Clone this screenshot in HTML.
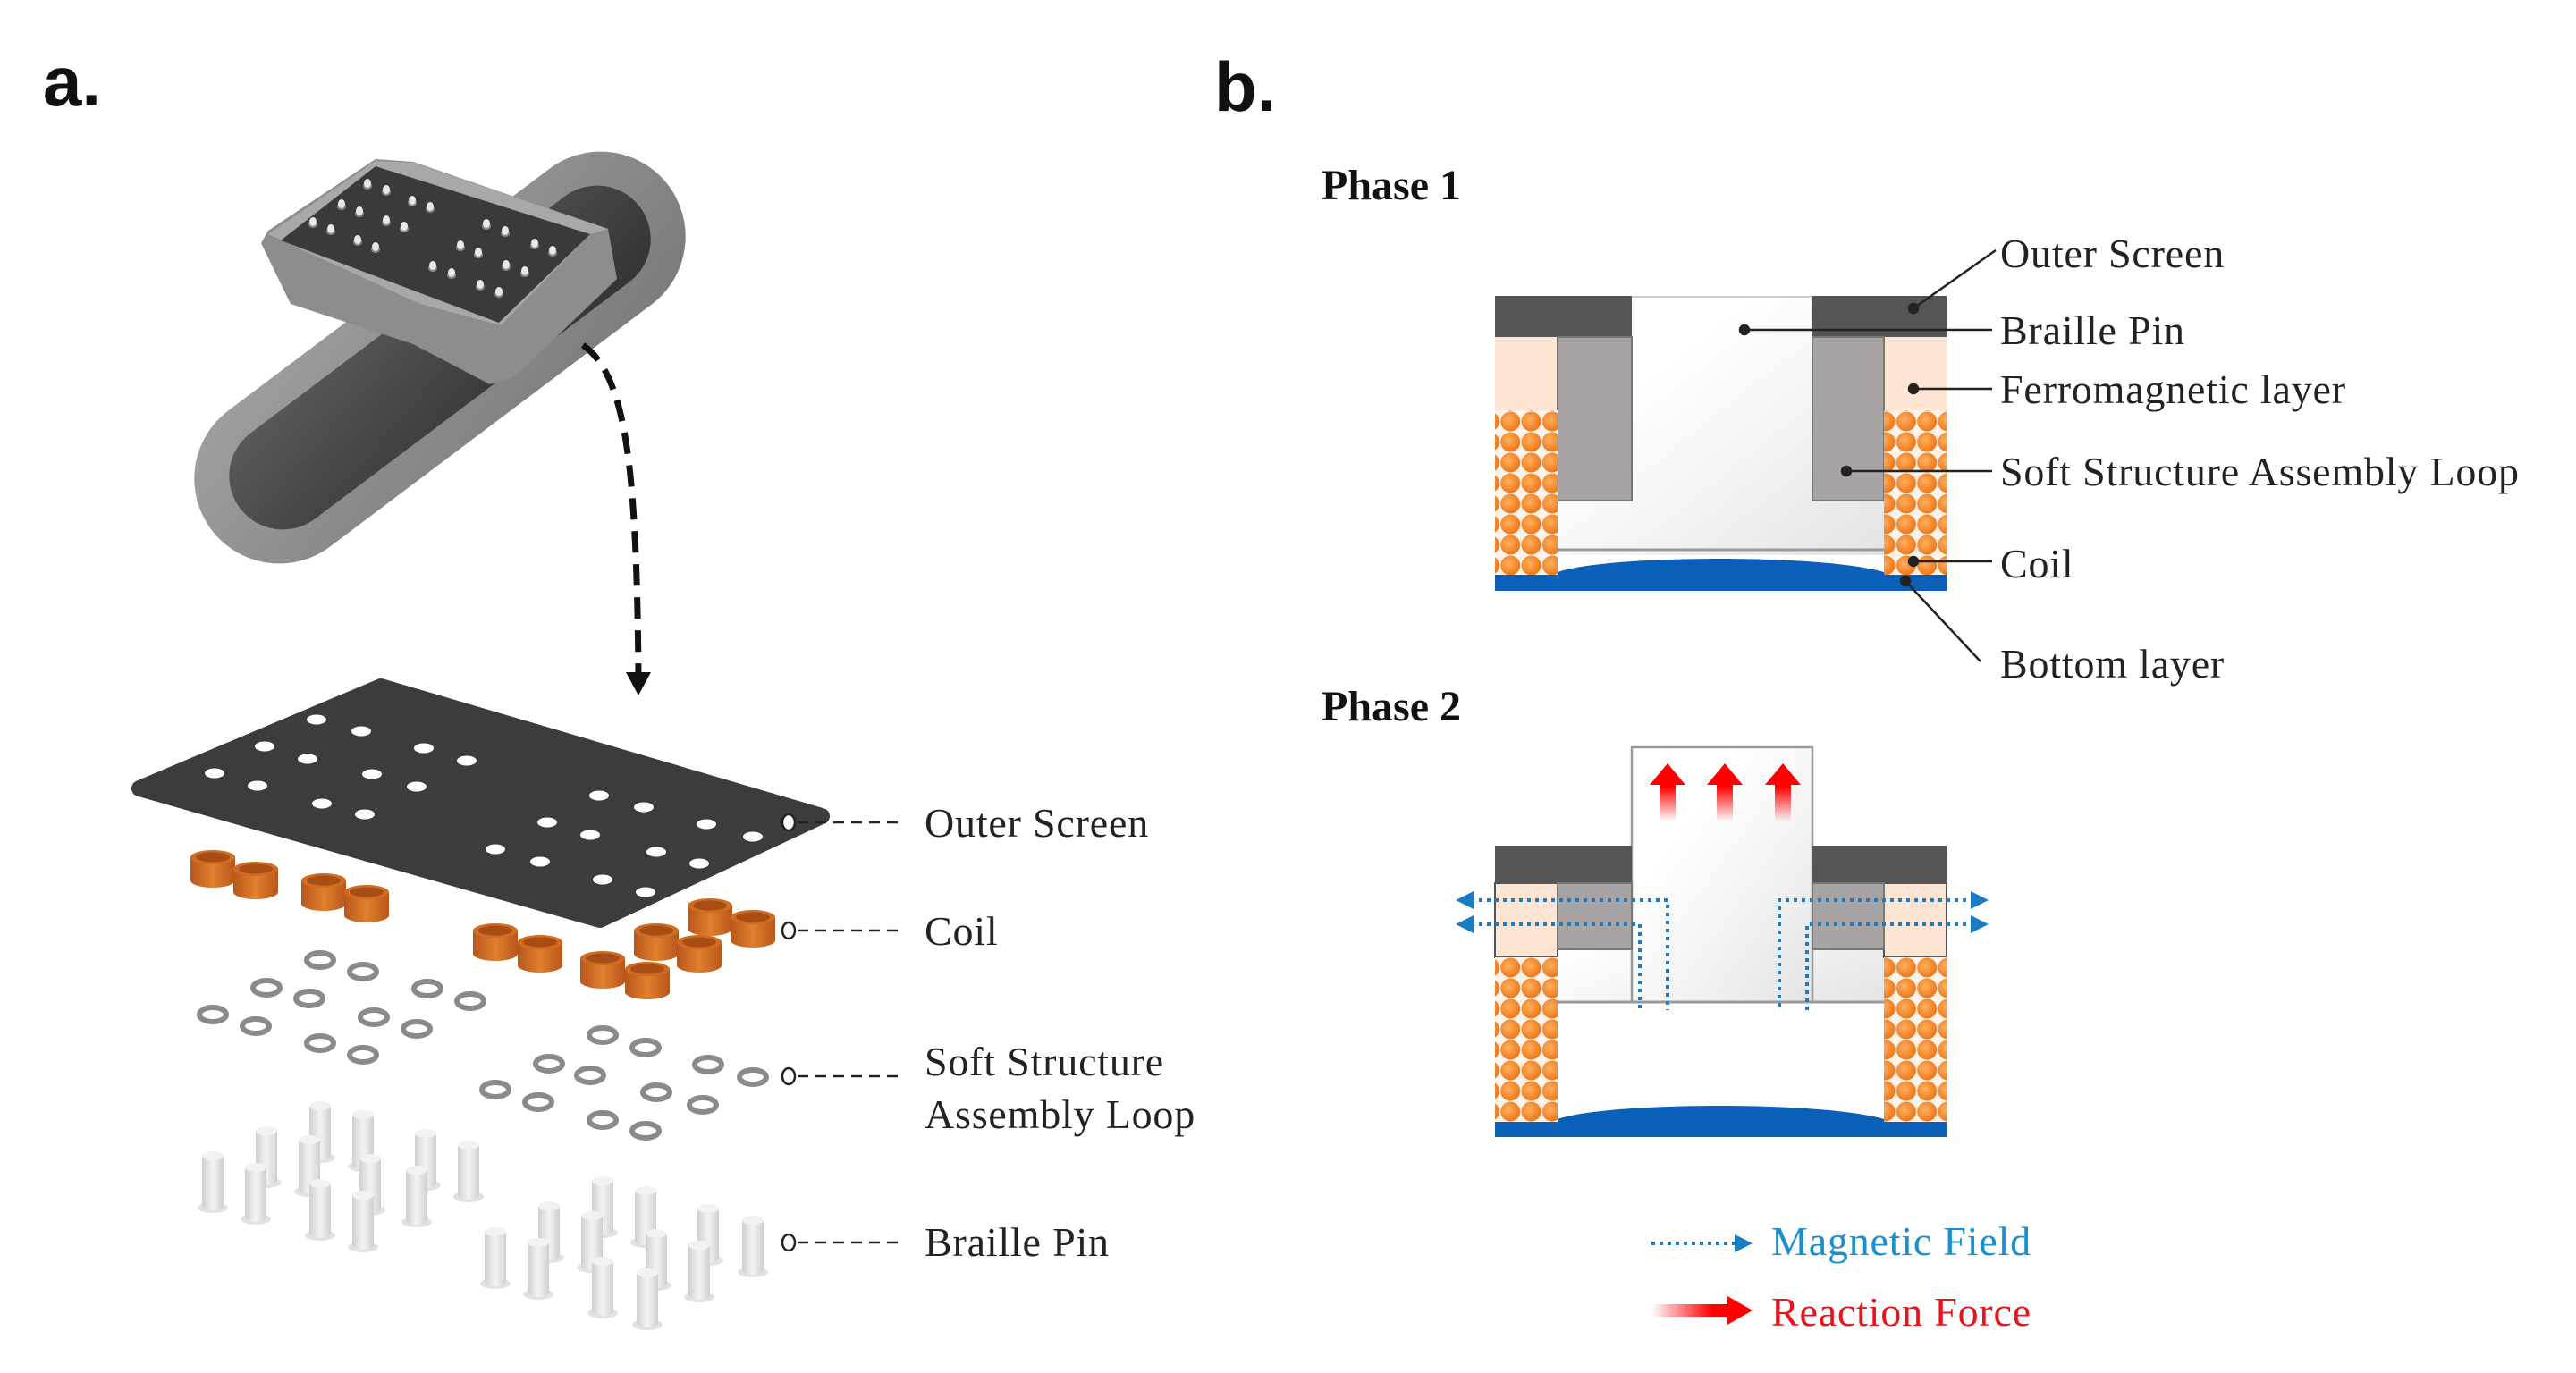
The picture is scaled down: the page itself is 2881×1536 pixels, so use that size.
<!DOCTYPE html>
<html><head><meta charset="utf-8"><style>
html,body{margin:0;padding:0;background:#fff}
svg{display:block}
text{font-family:"Liberation Serif",serif}
</style></head><body>
<svg width="2881" height="1536" viewBox="0 0 2881 1536" xmlns="http://www.w3.org/2000/svg">
<defs>
<linearGradient id="band" x1="0" y1="0" x2="1" y2="1"><stop offset="0" stop-color="#a0a0a0"/><stop offset="1" stop-color="#7a7a7a"/></linearGradient>
<linearGradient id="hole" x1="0" y1="0" x2="1" y2="1"><stop offset="0" stop-color="#5a5a5a"/><stop offset="1" stop-color="#333"/></linearGradient>
<linearGradient id="redup" x1="0" y1="1" x2="0" y2="0"><stop offset="0" stop-color="#ff0000" stop-opacity="0"/><stop offset="0.6" stop-color="#ff0000"/><stop offset="1" stop-color="#ff0000"/></linearGradient>
<linearGradient id="redright" x1="0" y1="0" x2="1" y2="0"><stop offset="0" stop-color="#ff0000" stop-opacity="0"/><stop offset="0.6" stop-color="#ff0000"/><stop offset="1" stop-color="#ff0000"/></linearGradient>
<linearGradient id="pinbg" x1="0" y1="0" x2="1" y2="1"><stop offset="0.3" stop-color="#fff"/><stop offset="1" stop-color="#e4e4e4"/></linearGradient>
<radialGradient id="coilc" cx="0.4" cy="0.4" r="0.6"><stop offset="0" stop-color="#ffb060"/><stop offset="1" stop-color="#f07818"/></radialGradient>
<pattern id="coilpat" x="0" y="0" width="23.3" height="23" patternUnits="userSpaceOnUse"><rect width="23.3" height="23" fill="#fbf3ec"/><circle cx="11.6" cy="11.5" r="11" fill="url(#coilc)"/></pattern>
<pattern id="coilpat2" x="0" y="1071" width="23.3" height="23" patternUnits="userSpaceOnUse"><rect width="23.3" height="23" fill="#fbf3ec"/><circle cx="11.6" cy="11.5" r="11" fill="url(#coilc)"/></pattern>
<linearGradient id="coilside" x1="0" y1="0" x2="1" y2="0"><stop offset="0" stop-color="#b8561a"/><stop offset="0.5" stop-color="#e0802e"/><stop offset="1" stop-color="#b8561a"/></linearGradient>
<linearGradient id="pinside" x1="0" y1="0" x2="1" y2="0"><stop offset="0" stop-color="#cfcfcf"/><stop offset="0.5" stop-color="#f4f4f4"/><stop offset="1" stop-color="#cfcfcf"/></linearGradient>
<g id="coil"><path d="M-25,0 v26 a25,8 0 0 0 50,0 v-26 z" fill="url(#coilside)"/><ellipse cx="0" cy="0" rx="25" ry="8" fill="#d06c22"/><ellipse cx="0" cy="0" rx="19" ry="5.5" fill="#a84e14"/></g>
<g id="ring"><ellipse cx="0" cy="0" rx="15" ry="8" fill="none" stroke="#8a8a8a" stroke-width="6"/></g>
<g id="pin"><ellipse cx="0" cy="58" rx="17" ry="6" fill="#e2e2e2"/><path d="M-12,0 v56 a12,5 0 0 0 24,0 v-56 z" fill="url(#pinside)"/><ellipse cx="0" cy="0" rx="12" ry="5" fill="#f2f2f2"/></g>
<g id="bump"><ellipse cx="0" cy="3" rx="5" ry="4" fill="#888"/><ellipse cx="0" cy="0" rx="4" ry="5" fill="#e8e8e8"/></g>
</defs>

<text x="48" y="118" font-weight="bold" font-size="78" fill="#111" style="font-family:'Liberation Sans',sans-serif">a.</text>
<text x="1358" y="124" font-weight="bold" font-size="78" fill="#111" style="font-family:'Liberation Sans',sans-serif">b.</text>

<!-- bracelet -->
<g transform="translate(492,400) rotate(-37)">
<rect x="-320" y="-95" width="640" height="190" rx="95" fill="url(#band)"/>
<rect x="-280" y="-60" width="560" height="120" rx="60" fill="url(#hole)"/>
</g>
<polygon points="292,272 300,258 420,178 462,181 680,256 690,312 575,422 548,430 462,385 325,340" fill="#8d8d8d"/>
<polygon points="300,262 420,180 462,182 680,256 660,262 560,364 470,340" fill="#a8a8a8"/>
<polygon points="314,269 420,186 660,262 558,361" fill="#3a3a3a"/>
<g>
<use href="#bump" x="411" y="205"/><use href="#bump" x="432" y="212"/><use href="#bump" x="382" y="228"/><use href="#bump" x="402" y="236"/><use href="#bump" x="461" y="224"/><use href="#bump" x="481" y="231"/><use href="#bump" x="350" y="248"/><use href="#bump" x="370" y="256"/><use href="#bump" x="432" y="246"/><use href="#bump" x="452" y="253"/><use href="#bump" x="400" y="268"/><use href="#bump" x="420" y="276"/>
<use href="#bump" x="544" y="250"/><use href="#bump" x="565" y="258"/><use href="#bump" x="515" y="274"/><use href="#bump" x="535" y="282"/><use href="#bump" x="598" y="272"/><use href="#bump" x="618" y="280"/><use href="#bump" x="484" y="297"/><use href="#bump" x="505" y="305"/><use href="#bump" x="566" y="296"/><use href="#bump" x="587" y="303"/><use href="#bump" x="537" y="318"/><use href="#bump" x="558" y="326"/>
</g>
<path d="M652,386 C700,420 712,520 714,755" fill="none" stroke="#111" stroke-width="7" stroke-dasharray="24,13"/>
<polygon points="700,752 728,752 714,778" fill="#111"/>

<!-- exploded view -->
<polygon points="156,882 426,768 919,913 671,1029" fill="#3c3c3c" stroke="#3c3c3c" stroke-width="18" stroke-linejoin="round"/>
<g fill="#fff">
<ellipse cx="354" cy="805" rx="11" ry="5.5"/><ellipse cx="404" cy="818" rx="11" ry="5.5"/><ellipse cx="296" cy="835" rx="11" ry="5.5"/><ellipse cx="344" cy="849" rx="11" ry="5.5"/><ellipse cx="474" cy="837" rx="11" ry="5.5"/><ellipse cx="522" cy="851" rx="11" ry="5.5"/><ellipse cx="240" cy="865" rx="11" ry="5.5"/><ellipse cx="288" cy="879" rx="11" ry="5.5"/><ellipse cx="416" cy="866" rx="11" ry="5.5"/><ellipse cx="466" cy="880" rx="11" ry="5.5"/><ellipse cx="360" cy="899" rx="11" ry="5.5"/><ellipse cx="408" cy="911" rx="11" ry="5.5"/>
<ellipse cx="670" cy="890" rx="11" ry="5.5"/><ellipse cx="720" cy="903" rx="11" ry="5.5"/><ellipse cx="612" cy="920" rx="11" ry="5.5"/><ellipse cx="660" cy="934" rx="11" ry="5.5"/><ellipse cx="790" cy="922" rx="11" ry="5.5"/><ellipse cx="842" cy="936" rx="11" ry="5.5"/><ellipse cx="554" cy="950" rx="11" ry="5.5"/><ellipse cx="604" cy="964" rx="11" ry="5.5"/><ellipse cx="734" cy="953" rx="11" ry="5.5"/><ellipse cx="782" cy="966" rx="11" ry="5.5"/><ellipse cx="674" cy="984" rx="11" ry="5.5"/><ellipse cx="722" cy="998" rx="11" ry="5.5"/>
</g>
<g>
<use href="#coil" x="238" y="959"/><use href="#coil" x="286" y="972"/><use href="#coil" x="362" y="985"/><use href="#coil" x="410" y="998"/><use href="#coil" x="794" y="1013"/><use href="#coil" x="842" y="1026"/><use href="#coil" x="554" y="1041"/><use href="#coil" x="604" y="1054"/><use href="#coil" x="734" y="1041"/><use href="#coil" x="782" y="1054"/><use href="#coil" x="674" y="1072"/><use href="#coil" x="724" y="1084"/>
</g>
<g>
<use href="#ring" x="358" y="1074"/><use href="#ring" x="406" y="1087"/><use href="#ring" x="298" y="1105"/><use href="#ring" x="346" y="1117"/><use href="#ring" x="478" y="1106"/><use href="#ring" x="526" y="1120"/><use href="#ring" x="238" y="1135"/><use href="#ring" x="286" y="1148"/><use href="#ring" x="418" y="1138"/><use href="#ring" x="466" y="1151"/><use href="#ring" x="358" y="1167"/><use href="#ring" x="406" y="1180"/>
<use href="#ring" x="674" y="1158"/><use href="#ring" x="722" y="1172"/><use href="#ring" x="614" y="1190"/><use href="#ring" x="660" y="1203"/><use href="#ring" x="792" y="1191"/><use href="#ring" x="842" y="1205"/><use href="#ring" x="554" y="1219"/><use href="#ring" x="602" y="1233"/><use href="#ring" x="734" y="1222"/><use href="#ring" x="786" y="1236"/><use href="#ring" x="674" y="1253"/><use href="#ring" x="722" y="1265"/>
</g>
<g>
<use href="#pin" x="358" y="1237"/><use href="#pin" x="406" y="1247"/><use href="#pin" x="298" y="1265"/><use href="#pin" x="346" y="1275"/><use href="#pin" x="476" y="1268"/><use href="#pin" x="524" y="1281"/><use href="#pin" x="238" y="1293"/><use href="#pin" x="286" y="1306"/><use href="#pin" x="414" y="1296"/><use href="#pin" x="466" y="1309"/><use href="#pin" x="358" y="1324"/><use href="#pin" x="406" y="1337"/>
<use href="#pin" x="674" y="1321"/><use href="#pin" x="722" y="1332"/><use href="#pin" x="614" y="1349"/><use href="#pin" x="662" y="1360"/><use href="#pin" x="792" y="1352"/><use href="#pin" x="842" y="1365"/><use href="#pin" x="554" y="1378"/><use href="#pin" x="602" y="1390"/><use href="#pin" x="734" y="1380"/><use href="#pin" x="782" y="1393"/><use href="#pin" x="674" y="1411"/><use href="#pin" x="724" y="1424"/>
</g>

<g stroke="#222" stroke-width="2.5" fill="#fff">
<ellipse cx="882" cy="920" rx="7" ry="9"/><ellipse cx="882" cy="1041" rx="7" ry="9"/><ellipse cx="882" cy="1204" rx="7" ry="9"/><ellipse cx="882" cy="1390" rx="7" ry="9"/>
</g>
<g stroke="#222" stroke-width="2.5" stroke-dasharray="12,8">
<line x1="892" y1="920" x2="1006" y2="920"/><line x1="892" y1="1041" x2="1006" y2="1041"/><line x1="892" y1="1204" x2="1006" y2="1204"/><line x1="892" y1="1390" x2="1006" y2="1390"/>
</g>
<g font-size="46" fill="#222" letter-spacing="0.8">
<text x="1034" y="936">Outer Screen</text>
<text x="1034" y="1057">Coil</text>
<text x="1034" y="1203">Soft Structure</text>
<text x="1034" y="1262">Assembly Loop</text>
<text x="1034" y="1405">Braille Pin</text>
</g>

<!-- Phase 1 -->
<text x="1478" y="223" font-size="48" font-weight="bold" fill="#111">Phase 1</text>
<rect x="1742" y="331" width="365" height="290" fill="url(#pinbg)"/>
<line x1="1742" y1="615" x2="2107" y2="615" stroke="#999" stroke-width="3"/>
<rect x="1672" y="331" width="153" height="46" fill="#555"/>
<rect x="2027" y="331" width="150" height="46" fill="#555"/>
<line x1="1825" y1="332" x2="2027" y2="332" stroke="#ccc" stroke-width="2"/>
<rect x="1672" y="377" width="70" height="82" fill="#fde4d3"/>
<rect x="2107" y="377" width="70" height="82" fill="#fde4d3"/>
<rect x="1742" y="377" width="83" height="183" fill="#a8a4a4" stroke="#777" stroke-width="2"/>
<rect x="2027" y="377" width="80" height="183" fill="#a8a4a4" stroke="#777" stroke-width="2"/>
<rect x="1672" y="459" width="70" height="184" fill="url(#coilpat)"/>
<rect x="2107" y="459" width="70" height="184" fill="url(#coilpat)"/>
<path d="M1742,661 V640 C1800,620 2040,620 2107,640 V661 Z" fill="#0a5fb8"/>
<rect x="1672" y="643" width="505" height="18" fill="#0a5fb8"/>
<g stroke="#222" stroke-width="2.5" fill="#222">
<line x1="2140" y1="345" x2="2232" y2="280"/><circle cx="2140" cy="345" r="5"/>
<line x1="1951" y1="369" x2="2228" y2="369"/><circle cx="1951" cy="369" r="5"/>
<line x1="2140" y1="435" x2="2228" y2="435"/><circle cx="2140" cy="435" r="5"/>
<line x1="2065" y1="527" x2="2228" y2="527"/><circle cx="2065" cy="527" r="5"/>
<line x1="2140" y1="628" x2="2228" y2="628"/><circle cx="2140" cy="628" r="5"/>
<line x1="2131" y1="650" x2="2215" y2="740"/><circle cx="2131" cy="650" r="5"/>
</g>
<g font-size="46" fill="#222" letter-spacing="0.8">
<text x="2237" y="299">Outer Screen</text>
<text x="2237" y="385">Braille Pin</text>
<text x="2237" y="451">Ferromagnetic layer</text>
<text x="2237" y="543">Soft Structure Assembly Loop</text>
<text x="2237" y="646">Coil</text>
<text x="2237" y="758">Bottom layer</text>
</g>

<!-- Phase 2 -->
<text x="1478" y="806" font-size="48" font-weight="bold" fill="#111">Phase 2</text>
<rect x="1742" y="988" width="365" height="133" fill="url(#pinbg)"/>
<rect x="1825" y="836" width="202" height="285" fill="url(#pinbg)" stroke="#999" stroke-width="2.5"/>
<line x1="1742" y1="1121" x2="2107" y2="1121" stroke="#999" stroke-width="3"/>
<rect x="1672" y="946" width="153" height="42" fill="#555"/>
<rect x="2027" y="946" width="150" height="42" fill="#555"/>
<rect x="1672" y="988" width="70" height="83" fill="#fde4d3" stroke="#555" stroke-width="2"/>
<rect x="2107" y="988" width="70" height="83" fill="#fde4d3" stroke="#555" stroke-width="2"/>
<rect x="1742" y="988" width="83" height="74" fill="#a8a4a4" stroke="#777" stroke-width="2"/>
<rect x="2027" y="988" width="80" height="74" fill="#a8a4a4" stroke="#777" stroke-width="2"/>
<rect x="1672" y="1071" width="70" height="184" fill="url(#coilpat2)"/>
<rect x="2107" y="1071" width="70" height="184" fill="url(#coilpat2)"/>
<path d="M1742,1272 V1252 C1800,1232 2040,1232 2107,1252 V1272 Z" fill="#0a5fb8"/>
<rect x="1672" y="1255" width="505" height="17" fill="#0a5fb8"/>
<g fill="url(#redup)">
<path d="M1856,919 V878 H1845 L1865,854 L1885,878 H1874 V919 Z"/>
<path d="M1920,919 V878 H1909 L1929,854 L1949,878 H1938 V919 Z"/>
<path d="M1985,919 V878 H1974 L1994,854 L2014,878 H2003 V919 Z"/>
</g>
<g fill="none" stroke="#1a7cc4" stroke-width="4" stroke-dasharray="4,5">
<path d="M1645,1007 H1865 V1130"/>
<path d="M1645,1034 H1834 V1130"/>
<path d="M2208,1007 H1990 V1130"/>
<path d="M2208,1034 H2021 V1130"/>
</g>
<g fill="#1a7cc4">
<polygon points="1628,1007 1648,997 1648,1017"/><polygon points="1628,1034 1648,1024 1648,1044"/>
<polygon points="2224,1007 2204,997 2204,1017"/><polygon points="2224,1034 2204,1024 2204,1044"/>
</g>

<line x1="1847" y1="1391" x2="1942" y2="1391" stroke="#1a7cc4" stroke-width="4" stroke-dasharray="4,5"/>
<polygon points="1960,1391 1940,1381 1940,1401" fill="#1a7cc4"/>
<path d="M1847,1459 H1932 V1450 L1960,1466 L1932,1482 V1473 H1847 Z" fill="url(#redright)"/>
<text x="1981" y="1404" font-size="46" fill="#1a8fd0" letter-spacing="0.8">Magnetic Field</text>
<text x="1981" y="1483" font-size="46" fill="#e8141c" letter-spacing="0.8">Reaction Force</text>
</svg>
</body></html>
